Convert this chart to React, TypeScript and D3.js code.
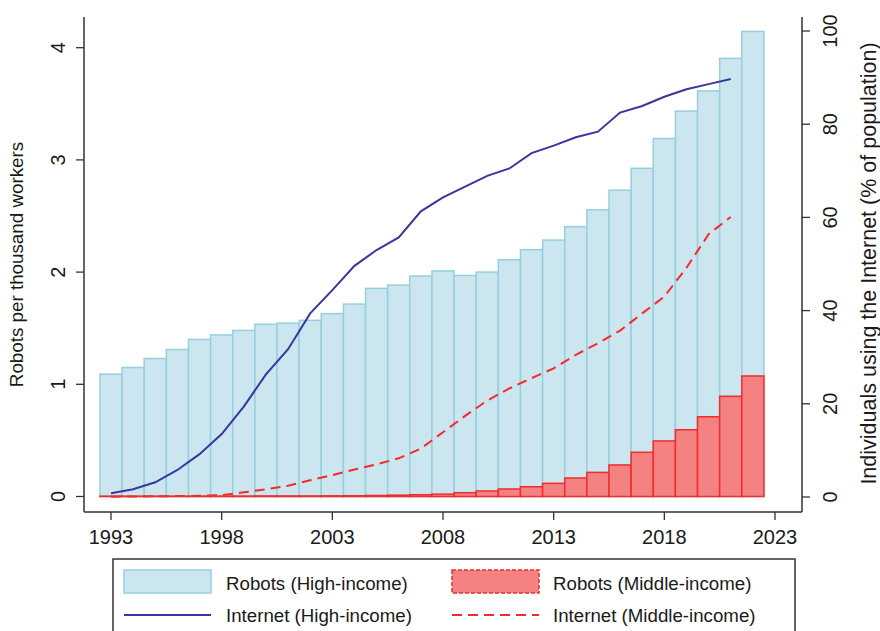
import React from "react";
import * as d3 from "d3";

const years = [1993,1994,1995,1996,1997,1998,1999,2000,2001,2002,2003,2004,2005,2006,2007,2008,2009,2010,2011,2012,2013,2014,2015,2016,2017,2018,2019,2020,2021,2022];
const robotsHigh = [1.09,1.15,1.23,1.31,1.40,1.44,1.48,1.535,1.545,1.57,1.63,1.715,1.855,1.885,1.965,2.01,1.97,2.00,2.11,2.20,2.285,2.405,2.555,2.73,2.925,3.19,3.435,3.615,3.905,4.145];
const robotsMiddle = [0.003,0.003,0.003,0.003,0.004,0.004,0.004,0.005,0.005,0.005,0.006,0.007,0.009,0.012,0.016,0.021,0.034,0.049,0.067,0.087,0.117,0.165,0.215,0.281,0.394,0.495,0.595,0.711,0.893,1.074];
const internetYears = [1993,1994,1995,1996,1997,1998,1999,2000,2001,2002,2003,2004,2005,2006,2007,2008,2009,2010,2011,2012,2013,2014,2015,2016,2017,2018,2019,2020,2021];
const internetHigh = [0.8,1.65,3.15,5.8,9.2,13.5,19.4,26.3,31.7,39.4,44.4,49.6,53.0,55.7,61.3,64.3,66.6,68.9,70.5,73.8,75.4,77.2,78.4,82.5,83.9,85.9,87.5,88.6,89.7];
const internetMiddle = [0.07,0.1,0.15,0.2,0.25,0.4,1.0,1.65,2.4,3.6,4.7,5.9,7.0,8.3,10.4,13.9,17.4,20.7,23.3,25.5,27.6,30.5,33.0,35.7,39.4,43.0,49.2,56.4,60.1];
const xTicks = [1993,1998,2003,2008,2013,2018,2023];
const leftTicks = [0,1,2,3,4];
const rightTicks = [0,20,40,60,80,100];

const FONT = "'Liberation Sans', Arial, Helvetica, sans-serif";
const TXT = "#1a1a1a";
const AX = "#333";
const BLUE_FILL = "#cbe6ee";
const BLUE_STROKE = "#96cfe0";
const RED_FILL = "#f48282";
const RED_STROKE = "#f02c2c";
const LINE_BLUE = "#3a35a0";
const LINE_RED = "#f52a2a";

export default function App() {
  const W = 880, H = 631;
  const plotTop = 17, plotBottom = 512, plotLeft = 84, plotRight = 802;
  const x = d3.scaleLinear().domain([1993, 2023]).range([111, 775]);
  const yL = d3.scaleLinear().domain([0, 4]).range([496.5, 47.7]);
  const yR = d3.scaleLinear().domain([0, 100]).range([497, 31]);
  const bw = x(1994) - x(1993);

  const lineHigh = d3.line<number>().x((_, i) => x(internetYears[i])).y((d) => yR(d));
  const lineMid = d3.line<number>().x((_, i) => x(internetYears[i])).y((d) => yR(d));

  const tickFs = 20;
  const legFs = 18.7;

  return (
    <svg width={W} height={H} style={{ position: "absolute", left: 0, top: 0, background: "#fff" }} fontFamily={FONT}>
      <rect x={0} y={0} width={W} height={H} fill="#fff" />
      {years.map((yr, i) => (
        <rect key={"h" + yr} x={x(yr) - bw / 2} y={yL(robotsHigh[i])} width={bw} height={yL(0) - yL(robotsHigh[i])}
          fill={BLUE_FILL} stroke={BLUE_STROKE} strokeWidth={1.5} />
      ))}
      {years.map((yr, i) => (
        <rect key={"m" + yr} x={x(yr) - bw / 2} y={yL(robotsMiddle[i])} width={bw} height={Math.max(0.01, yL(0) - yL(robotsMiddle[i]))}
          fill={RED_FILL} stroke={RED_STROKE} strokeWidth={1.5} />
      ))}
      <path d={lineHigh(internetHigh) || ""} fill="none" stroke={LINE_BLUE} strokeWidth={2} />
      <path d={lineMid(internetMiddle) || ""} fill="none" stroke={LINE_RED} strokeWidth={2} strokeDasharray="10 6" />

      <line x1={plotLeft} x2={plotLeft} y1={plotTop} y2={plotBottom} stroke={AX} strokeWidth={1.5} />
      <line x1={plotRight} x2={plotRight} y1={plotTop} y2={plotBottom} stroke={AX} strokeWidth={1.5} />
      <line x1={plotLeft} x2={plotRight} y1={plotBottom} y2={plotBottom} stroke={AX} strokeWidth={1.5} />

      {leftTicks.map((t) => (
        <g key={"lt" + t}>
          <line x1={plotLeft - 8} x2={plotLeft} y1={yL(t)} y2={yL(t)} stroke={AX} strokeWidth={1.3} />
          <text transform={`translate(65,${yL(t)}) rotate(-90)`} textAnchor="middle" fontSize={tickFs} fill={TXT}>{t}</text>
        </g>
      ))}
      {rightTicks.map((t) => (
        <g key={"rt" + t}>
          <line x1={plotRight} x2={plotRight + 8} y1={yR(t)} y2={yR(t)} stroke={AX} strokeWidth={1.3} />
          <text transform={`translate(837,${yR(t)}) rotate(-90)`} textAnchor="middle" fontSize={tickFs} fill={TXT}>{t}</text>
        </g>
      ))}
      {xTicks.map((t) => (
        <g key={"xt" + t}>
          <line x1={x(t)} x2={x(t)} y1={plotBottom} y2={plotBottom + 8} stroke={AX} strokeWidth={1.3} />
          <text x={x(t)} y={544} textAnchor="middle" fontSize={tickFs} fill={TXT}>{t}</text>
        </g>
      ))}

      <text transform={`translate(23,${(plotTop + plotBottom) / 2}) rotate(-90)`} textAnchor="middle" fontSize={18.8} fill={TXT}>Robots per thousand workers</text>
      <text transform={`translate(876,263.5) rotate(-90)`} textAnchor="middle" fontSize={21.5} fill={TXT}>Individuals using the Internet (% of population)</text>

      <rect x={113} y={559} width={682} height={90} fill="#fff" stroke={AX} strokeWidth={1.5} />
      <rect x={124} y={570} width={87} height={23} fill={BLUE_FILL} stroke={BLUE_STROKE} strokeWidth={1.5} />
      <text x={226} y={590} fontSize={legFs} fill={TXT}>Robots (High-income)</text>
      <line x1={124} x2={211} y1={615} y2={615} stroke={LINE_BLUE} strokeWidth={2} />
      <text x={226} y={622} fontSize={legFs} fill={TXT}>Internet (High-income)</text>
      <rect x={452} y={570} width={87} height={23} fill={RED_FILL} stroke={RED_STROKE} strokeWidth={1.5} strokeDasharray="4 2" />
      <text x={553} y={590} fontSize={legFs} fill={TXT}>Robots (Middle-income)</text>
      <line x1={452} x2={539} y1={615} y2={615} stroke={LINE_RED} strokeWidth={2} strokeDasharray="10 6" />
      <text x={553} y={622} fontSize={legFs} fill={TXT}>Internet (Middle-income)</text>
    </svg>
  );
}
